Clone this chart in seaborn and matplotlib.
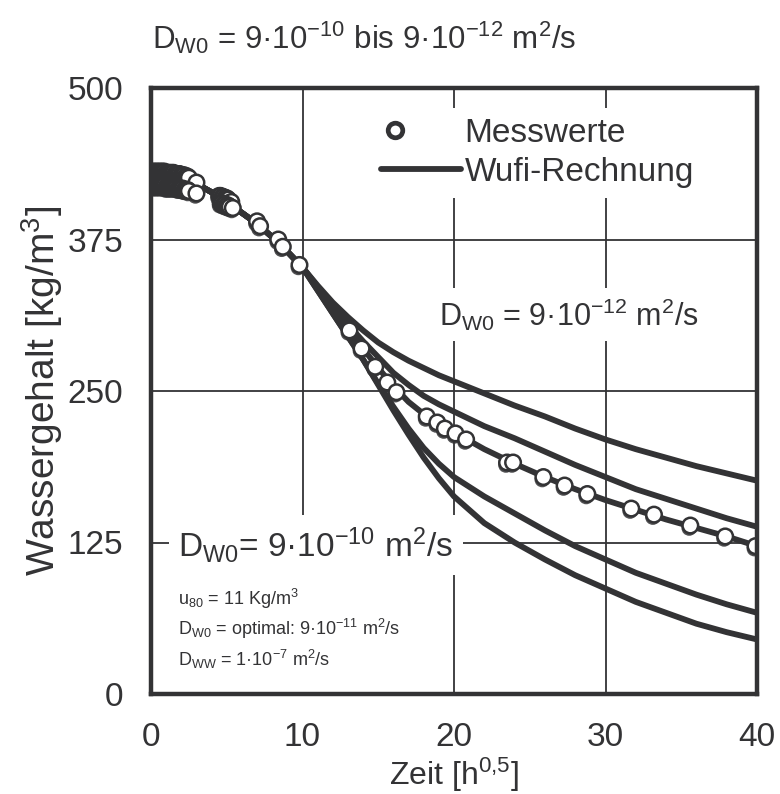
import matplotlib
matplotlib.use("Agg")
import matplotlib.pyplot as plt
import matplotlib.patheffects as pe
import seaborn as sns
import pandas as pd
from matplotlib.lines import Line2D
from matplotlib.legend_handler import HandlerLine2D

# ---------------- data ----------------
common_x = [0, 1, 2, 3, 4, 5, 6, 7, 8, 9]
common_y = [429, 428, 426, 421, 414, 406, 397, 388, 377, 365]

branch_x = [10, 11, 12, 13, 14, 15, 16, 17, 18, 19, 20, 22, 24, 26, 28, 30, 32, 34, 36, 38, 40]
curve_a = [352, 337, 323, 311, 300, 290, 282, 275, 269, 263, 258, 248, 238, 229, 219, 210, 202, 195, 188, 182, 176]
curve_b = [352, 336, 320, 305, 291, 278, 265, 255, 246, 239, 233, 221, 211, 200, 189, 179, 169, 161, 153, 145, 138]
curve_c = [352, 335, 318, 301, 285, 269, 254, 241, 231, 223, 216, 202, 190, 179, 169, 160, 152, 144, 137, 130, 122]
curve_d = [352, 333, 314, 295, 276, 256, 237, 219, 203, 190, 179, 163, 149, 135, 122, 111, 100, 91, 82, 74, 67]
curve_e = [352, 333, 314, 295, 276, 255, 234, 214, 195, 178, 163, 141, 125, 111, 98, 87, 76, 67, 58, 51, 45]

# measured values: two samples, early readings closely spaced in time
meas_x = [0.1, 0.2, 0.3, 0.4, 0.5, 0.6, 0.7, 0.8, 0.9, 1.0, 1.1, 1.2, 1.3, 1.4, 1.5,
          1.6, 1.7, 1.8, 1.9, 2.0, 2.1, 2.2, 2.3, 2.4, 2.5, 3.0,
          0.1, 0.2, 0.3, 0.4, 0.5, 0.6, 0.7, 0.8, 0.9, 1.0, 1.1, 1.2, 1.3, 1.4, 1.5,
          1.6, 1.7, 1.8, 1.9, 2.0, 2.1, 2.2, 2.3, 2.4, 2.5, 3.0,
          4.5, 4.6, 4.7, 4.8, 4.9, 5.0, 5.1, 5.3,
          4.6, 4.7, 4.8, 4.9, 5.0, 5.1, 5.2, 5.4,
          7.0, 7.2, 8.4, 8.7, 9.8,
          13.1, 13.9, 14.8, 15.6, 16.2,
          18.2, 18.9, 19.4, 20.1, 20.8,
          23.5, 23.9, 25.9, 27.3, 28.8, 31.7, 33.2, 35.6, 37.9, 39.9]
meas_y = [431, 431, 431, 431, 431, 431, 431, 431, 431, 430, 430, 430, 430, 430, 430,
          429, 429, 429, 429, 428, 428, 428, 427, 427, 426, 422,
          419, 419, 419, 419, 419, 419, 419, 419, 419, 418, 418, 418, 418, 418, 418,
          418, 418, 417, 417, 417, 417, 416, 416, 416, 415, 413,
          411, 411, 410, 410, 409, 409, 408, 406,
          405, 405, 404, 404, 403, 403, 402, 401,
          390, 386, 375, 369, 354,
          300, 285, 270, 257, 249,
          229, 224, 219, 215, 210,
          191, 191, 179, 172, 165, 153, 148, 139, 130, 122]

x_ticks = [0, 10, 20, 30, 40]
y_ticks = [0, 125, 250, 375, 500]

# ---------------- style ----------------
sns.set_theme(style="white")
plt.rcParams["font.family"] = ["Liberation Sans", "DejaVu Sans"]
plt.rcParams["mathtext.fontset"] = "custom"
plt.rcParams["mathtext.rm"] = "Liberation Sans"
plt.rcParams["mathtext.it"] = "Liberation Sans"
plt.rcParams["mathtext.bf"] = "Liberation Sans:bold"
dark = "#333335"

rows = []
for name, ys in [("a", curve_a), ("b", curve_b), ("c", curve_c), ("d", curve_d), ("e", curve_e)]:
    for x, y in zip(common_x + branch_x, common_y + ys):
        rows.append({"x": x, "y": y, "curve": name})
curves = pd.DataFrame(rows)
meas = pd.DataFrame({"x": meas_x, "y": meas_y})

fig = plt.figure(figsize=(7.8, 7.94), dpi=100)
ax = fig.add_axes([151 / 780, 1 - 694 / 794, 606 / 780, 606 / 794])

sns.lineplot(data=curves, x="x", y="y", units="curve", estimator=None,
             color=dark, lw=4.2, ax=ax, zorder=2, sort=False)
sns.scatterplot(data=meas, x="x", y="y", ax=ax, s=125, color="white",
                edgecolor=dark, linewidth=1.8, zorder=3, clip_on=True)
ax.collections[-1].set_path_effects([
    pe.SimplePatchShadow(offset=(-0.8, -1.8), shadow_rgbFace=dark, alpha=0.85),
    pe.Normal()])

ax.set_xlim(0, 40)
ax.set_ylim(0, 500)
ax.set_xticks(x_ticks)
ax.set_yticks(y_ticks)
ax.set_axisbelow(True)
ax.grid(True, color=dark, lw=1.3)
for sp in ax.spines.values():
    sp.set_color(dark)
    sp.set_linewidth(3.2)
    sp.set_zorder(6)
ax.tick_params(length=0, labelsize=24, colors=dark, pad=20)
ax.set_xlabel(r"Zeit [h$^{0{,}5}$]", fontsize=23, color=dark, labelpad=2)
ax.set_ylabel(r"Wassergehalt [kg/m$^{3}$]", fontsize=28, color=dark, labelpad=2)

# title
fig.text(152 / 780, 1 - 38 / 794,
         r"D$_{\mathregular{W0}}$ = 9·10$^{-10}$ bis 9·10$^{-12}$ m$^{2}$/s",
         fontsize=22.5, color=dark, va="center", ha="left")


class LeftMarkerHandler(HandlerLine2D):
    def create_artists(self, legend, orig_handle, xdescent, ydescent, width, height,
                       fontsize, trans):
        artists = super().create_artists(legend, orig_handle, xdescent, ydescent,
                                         width, height, fontsize, trans)
        for a in artists:
            if a.get_marker() not in (None, "None", "", " "):
                a.set_xdata([0.17 * width - xdescent])
        return artists


handles = [Line2D([], [], marker="o", ls="none", markersize=10.5, markerfacecolor="white",
                  markeredgecolor=dark, markeredgewidth=3.4),
           Line2D([], [], color=dark, lw=4.2)]
leg = ax.legend(handles, ["Messwerte", "Wufi-Rechnung"], loc="upper left",
                bbox_to_anchor=(0.336, 0.995), fontsize=24, frameon=True,
                framealpha=1, facecolor="white", edgecolor="none",
                handlelength=2.4, handletextpad=0.1, labelspacing=0.25,
                borderpad=0.3, fancybox=False,
                handler_map={handles[0]: LeftMarkerHandler()})
for t in leg.get_texts():
    t.set_color(dark)

box = dict(facecolor="white", edgecolor="none", pad=6)
ax.text(19.0, 313, r"D$_{\mathregular{W0}}$ = 9·10$^{-12}$ m$^{2}$/s", fontsize=22,
        color=dark, va="center", ha="left", bbox=box, zorder=4)
ax.text(1.8, 123, r"D$_{\mathregular{W0}}$= 9·10$^{-10}$ m$^{2}$/s", fontsize=24,
        color=dark, va="center", ha="left",
        bbox=dict(facecolor="white", edgecolor="none", pad=7), zorder=4)
small = ("u$_{\\mathregular{80}}$ = 11 Kg/m$^{3}$\n"
         "D$_{\\mathregular{W0}}$ = optimal: 9·10$^{-11}$ m$^{2}$/s\n"
         "D$_{\\mathregular{WW}}$ = 1·10$^{-7}$ m$^{2}$/s")
ax.text(1.8, 54, small, fontsize=13, color=dark, va="center", ha="left",
        linespacing=1.35, bbox=dict(facecolor="white", edgecolor="none", pad=16), zorder=4)

fig.savefig("out.png", dpi=100)
